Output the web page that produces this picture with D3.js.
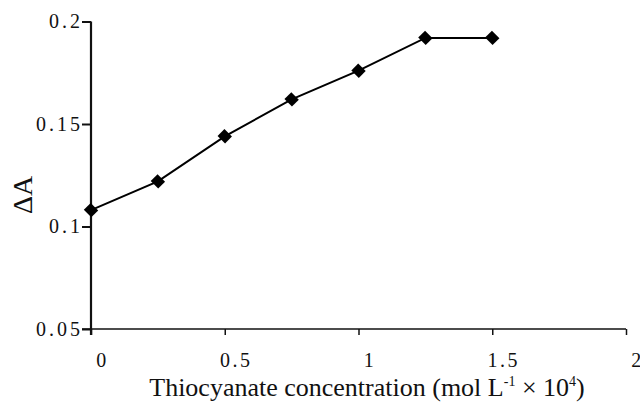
<!DOCTYPE html>
<html>
<head>
<meta charset="utf-8">
<script src="https://cdn.jsdelivr.net/npm/d3@7"></script>
<style>
  html, body { margin: 0; padding: 0; background: #fff; }
  svg text { font-family: "Liberation Serif", "Times New Roman", serif; fill: #111; }
</style>
</head>
<body>
<div id="chart"></div>
<script>
// datos
const concentration = [0, 0.25, 0.5, 0.75, 1, 1.25, 1.5];
const deltaA        = [0.108, 0.122, 0.144, 0.162, 0.176, 0.192, 0.192];
const xTicks = [0, 0.5, 1, 1.5, 2];
const yTicks = [0.05, 0.1, 0.15, 0.2];

const W = 640, H = 403;
const svg = d3.select('#chart').append('svg')
  .attr('width', W).attr('height', H);

// escalas
const x = d3.scaleLinear().domain([0, 2]).range([91, 626]);
const y = d3.scaleLinear().domain([0.05, 0.2]).range([329, 21.5]);

// eje X
const gx = svg.append('g')
  .attr('transform', `translate(0,${y(0.05)})`)
  .call(d3.axisBottom(x).tickValues(xTicks).tickSize(6).tickSizeOuter(0)
    .tickFormat(d => d))
  .attr('font-family', '"Liberation Serif", serif')
  .attr('font-size', 20);
gx.select('.domain').attr('stroke', '#111').attr('stroke-width', 1.5)
  .attr('d', `M${x(0) - 9},0H${x(2)}`);
gx.selectAll('.tick line').attr('stroke', '#111').attr('stroke-width', 1.5);
gx.selectAll('.tick text')
  .attr('letter-spacing', '2.5px')
  .attr('dx', 11)
  .attr('y', 0).attr('dy', 38)
  .attr('fill', '#111');

// eje Y
const gy = svg.append('g')
  .attr('transform', `translate(${x(0)},0)`)
  .call(d3.axisLeft(y).tickValues(yTicks).tickSize(9).tickSizeOuter(0)
    .tickFormat(d => d))
  .attr('font-family', '"Liberation Serif", serif')
  .attr('font-size', 20);
gy.select('.domain').attr('stroke', '#111').attr('stroke-width', 2.2)
  .attr('d', `M0,${y(0.2)}V${y(0.05) + 6}`);
gy.selectAll('.tick line').attr('stroke', '#111').attr('stroke-width', 2);
gy.selectAll('.tick text')
  .attr('letter-spacing', '3px')
  .attr('x', -8)
  .attr('dy', '0.3em')
  .attr('fill', '#111');

// título eje X
const xt = svg.append('text')
  .attr('x', 367).attr('y', 396)
  .attr('text-anchor', 'middle')
  .attr('font-size', 26);
xt.append('tspan').text('Thiocyanate concentration (mol L');
xt.append('tspan').attr('font-size', 14).attr('dy', -10).text('-1');
xt.append('tspan').attr('dy', 10).text(' \u00d7 10');
xt.append('tspan').attr('font-size', 14).attr('dy', -10).text('4');
xt.append('tspan').attr('dy', 10).text(')');

// título eje Y
svg.append('text')
  .attr('transform', 'translate(32,195) rotate(-90)')
  .attr('text-anchor', 'middle')
  .attr('font-size', 28)
  .text('\u0394A');

// línea
const pts = concentration.map((c, i) => ({ c, a: deltaA[i] }));
svg.append('path')
  .datum(pts)
  .attr('fill', 'none')
  .attr('stroke', '#000')
  .attr('stroke-width', 2)
  .attr('d', d3.line().x(d => x(d.c)).y(d => y(d.a)));

// marcadores (rombos)
const diamond = d3.symbol().type(d3.symbolSquare).size(112);
svg.append('g')
  .selectAll('path')
  .data(pts)
  .join('path')
    .attr('d', diamond)
    .attr('fill', '#000')
    .attr('transform', d => `translate(${x(d.c)},${y(d.a)}) rotate(45) scale(1,0.92)`);
</script>
</body>
</html>
